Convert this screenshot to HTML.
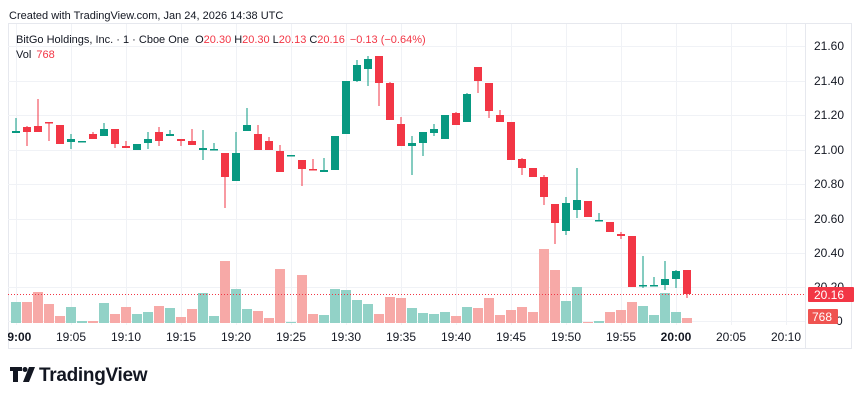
<!DOCTYPE html>
<html><head><meta charset="utf-8"><style>
html,body{margin:0;padding:0;background:#fff;width:860px;height:400px;overflow:hidden}
svg{display:block;font-family:"Liberation Sans",sans-serif}
</style></head><body>
<svg id="s" width="860" height="400" xmlns="http://www.w3.org/2000/svg">
<text x="9" y="19" font-size="11" fill="#131722">Created with TradingView.com, Jan 24, 2026 14:38 UTC</text>
<rect x="8.5" y="23.5" width="843" height="325" fill="none" stroke="#e6e8ee"/>
<g id="grid" stroke="#f0f2f6" stroke-width="1"></g>
<g id="vol"></g>
<g id="cdl"></g>
<line x1="8" y1="294.5" x2="805" y2="294.5" stroke="#f23645" stroke-dasharray="1,2" stroke-width="1"/>
<text x="16" y="43" font-size="11" fill="#131722">BitGo Holdings, Inc. · 1 · Cboe One <tspan dx="3">O</tspan><tspan fill="#f23645">20.30</tspan><tspan dx="3">H</tspan><tspan fill="#f23645">20.30</tspan><tspan dx="3">L</tspan><tspan fill="#f23645">20.13</tspan><tspan dx="3">C</tspan><tspan fill="#f23645">20.16</tspan><tspan dx="5" fill="#f23645">−0.13 (−0.64%)</tspan></text>
<text x="16" y="58" font-size="11" fill="#131722">Vol <tspan dx="2" fill="#f23645">768</tspan></text>
<g font-size="12" fill="#131722">
<text x="814" y="50">21.60</text><text x="814" y="85">21.40</text><text x="814" y="119">21.20</text><text x="814" y="154">21.00</text><text x="814" y="188">20.80</text><text x="814" y="223">20.60</text><text x="814" y="257">20.40</text><text x="814" y="291">20.20</text><text x="836" y="325">0</text>
</g>
<rect x="808" y="287" width="46" height="15" rx="1" fill="#f23645"/>
<text x="814" y="299" font-size="12" fill="#fff">20.16</text>
<rect x="808" y="309" width="30" height="15" rx="1" fill="#ef5350"/>
<text x="812" y="321" font-size="12" fill="#fff">768</text>
<g font-size="12" fill="#131722" text-anchor="middle">
<text x="16" y="341" font-weight="bold">19:00</text><text x="71" y="341">19:05</text><text x="126" y="341">19:10</text><text x="181" y="341">19:15</text><text x="236" y="341">19:20</text><text x="291" y="341">19:25</text><text x="346" y="341">19:30</text><text x="401" y="341">19:35</text><text x="456" y="341">19:40</text><text x="511" y="341">19:45</text><text x="566" y="341">19:50</text><text x="621" y="341">19:55</text><text x="676" y="341" font-weight="bold">20:00</text><text x="731" y="341">20:05</text><text x="786" y="341">20:10</text>
</g>
<rect x="0" y="326" width="8" height="20" fill="#fff"/>
<g fill="#131722">
<path d="M10 367h12v4h-4v11h-5v-11h-3z"/><circle cx="25" cy="369.5" r="2.5"/><path d="M29 367h6l-6 15h-6z"/>
</g>
<text x="39" y="381" font-size="19" font-weight="bold" fill="#131722" letter-spacing="-0.3">TradingView</text>
</svg>
<script>
var NS="http://www.w3.org/2000/svg";
function el(p,t,a){var e=document.createElementNS(NS,t);for(var k in a)e.setAttribute(k,a[k]);p.appendChild(e);return e;}
var g=document.getElementById('grid');
[46,81,115,150,184,219,253,287,321].forEach(function(y){el(g,'line',{x1:8,x2:805,y1:y+.5,y2:y+.5});});
for(var i=0;i<15;i++){var x=16+55*i;el(g,'line',{x1:x+.5,x2:x+.5,y1:24,y2:325});}
el(g,'line',{x1:805.5,x2:805.5,y1:24,y2:348,stroke:'#e6e8ee'});
var C=[[131,133,118,133,1],[127,132,126,146,0],[126,132,99,132,0],[122,123,122,141,0],[125,144,125,144,0],[139,142,134,149,1],[141,142,141,142,1],[134,139,132,139,0],[129,136,123,136,1],[129,144,129,148,0],[146,148,141,148,0],[144,150,144,150,1],[139,143,132,149,1],[132,141,127,146,0],[134,136,130,136,1],[139,141,139,146,0],[141,145,129,145,0],[148,150,130,160,1],[149,150,143,150,1],[153,177,153,208,0],[153,181,132,181,1],[125,131,108,131,1],[134,150,125,150,0],[141,150,137,150,0],[151,172,145,172,0],[155,156,155,156,1],[160,169,160,186,0],[169,170,159,170,0],[170,172,158,172,1],[136,170,136,170,1],[81,134,81,134,1],[65,81,60,82,1],[59,69,56,86,1],[56,83,56,106,0],[83,120,82,120,0],[124,146,117,146,0],[143,146,136,175,1],[132,143,132,156,1],[129,133,124,136,1],[115,139,115,139,1],[113,125,112,125,0],[94,122,93,122,1],[67,81,67,93,0],[83,111,83,118,0],[115,122,110,122,0],[122,160,122,160,0],[159,168,158,175,0],[168,177,168,177,0],[177,197,175,205,0],[204,223,204,244,0],[203,231,197,235,1],[200,210,168,218,1],[201,217,201,217,0],[220,221,213,221,1],[222,232,222,232,0],[234,236,232,239,0],[236,287,236,287,0],[285,286,256,288,1],[285,286,277,286,1],[279,285,261,290,1],[271,279,270,288,1],[270,294,270,298,0]];
var V=[[302,1],[302,0],[292,0],[304,0],[316,0],[307,1],[321,1],[321,0],[303,1],[314,0],[307,0],[314,1],[312,1],[306,0],[308,1],[317,0],[309,0],[293,1],[316,1],[261,0],[289,1],[309,1],[311,0],[318,0],[269,0],[322,1],[275,0],[314,0],[315,1],[289,1],[290,1],[300,1],[304,1],[314,0],[297,0],[298,0],[308,1],[313,1],[314,1],[312,1],[316,0],[307,1],[308,0],[298,0],[315,0],[310,0],[307,0],[312,0],[249,0],[270,0],[301,1],[287,1],[322,0],[321,1],[312,0],[310,0],[302,0],[306,1],[315,1],[293,1],[312,1],[318,0]];
var vg=document.getElementById('vol'),cg=document.getElementById('cdl');
V.forEach(function(v,i){var x=16+11*i;el(vg,'rect',{x:x-5,y:v[0],width:10,height:Math.max(1,323-v[0]),fill:v[1]?'#92d2c7':'#f7a9a7'});});
C.forEach(function(c,i){var x=16+11*i,col=c[4]?'#089981':'#f23645';
el(cg,'rect',{x:x-0.5,y:c[2],width:1,height:c[3]-c[2],fill:col});
el(cg,'rect',{x:x-4,y:c[0],width:8,height:Math.max(1.5,c[1]-c[0]),fill:col});});
</script>
</body></html>
